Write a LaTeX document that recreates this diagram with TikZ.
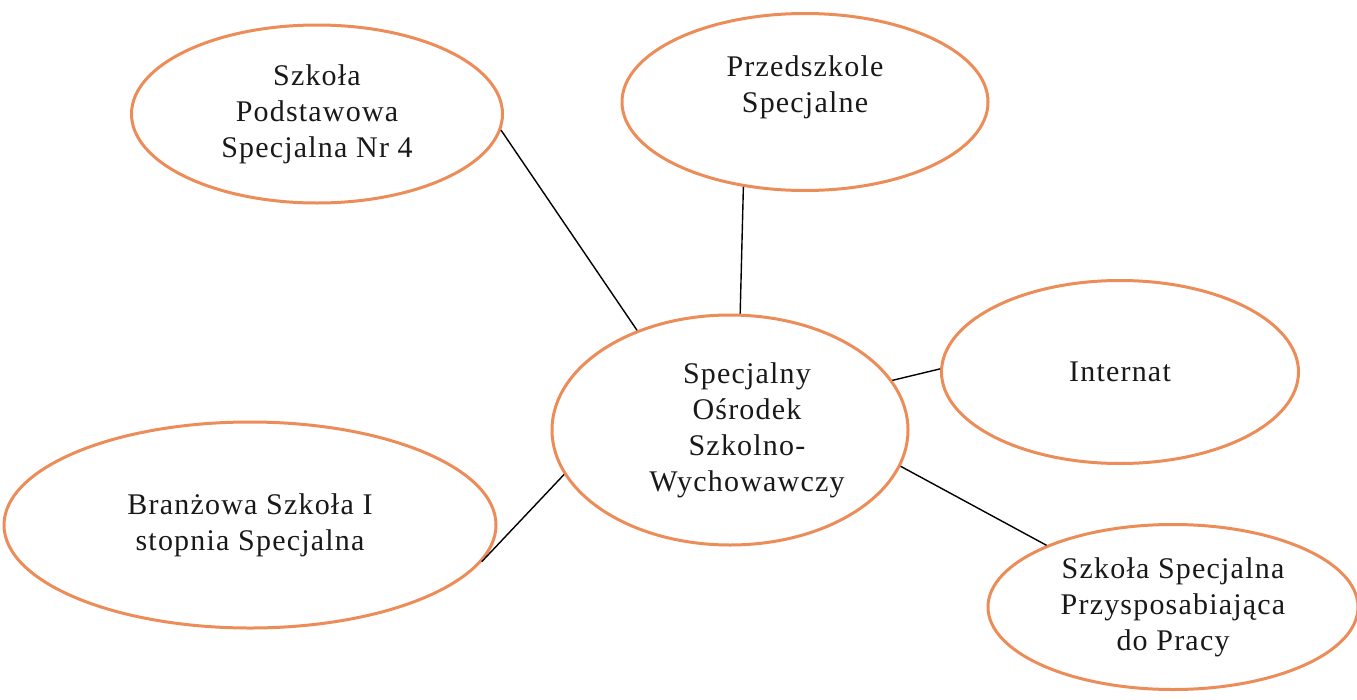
\documentclass[tikz,border=0pt]{standalone}
\usepackage{fontspec}
\setmainfont[LetterSpace=4]{Liberation Serif}
\usetikzlibrary{shapes.geometric}
\definecolor{ringorange}{RGB}{236,140,88}

\begin{document}
\begin{tikzpicture}
[x=1pt,y=-1pt,
unit/.style={ellipse,draw=ringorange,line width=3pt,fill=white,inner sep=0pt,align=center,
  text=black!90,font=\fontsize{30}{36}\selectfont},
lbl/.style={align=center,text=black!90,font=\fontsize{30}{36}\selectfont},
link/.style={-,black,line width=1.4pt}]

\useasboundingbox (0,0) rectangle (1357,699);

%draw the centre
\node[unit,minimum width=356pt,minimum height=230pt,
  label={[lbl,xshift=17pt]center:{Specjalny\\O\'srodek\\Szkolno-\\Wychowawczy}}] (sosw) at (730,430) {};

%draw the units round it
\node[unit,minimum width=371pt,minimum height=178pt] (sp4) at (317,114)
  {Szko\l{}a\\Podstawowa\\Specjalna Nr 4};
\node[unit,minimum width=366pt,minimum height=177pt,
  label={[lbl,yshift=15pt]center:{Przedszkole\\Specjalne}}] (przedszkole) at (805,102) {};
\node[unit,minimum width=357pt,minimum height=183pt] (internat) at (1120,372) {Internat};
\node[unit,minimum width=492pt,minimum height=206pt] (branzowa) at (250,525)
  {Bran\.zowa Szko\l{}a I\\stopnia Specjalna};
\node[unit,minimum width=370pt,minimum height=165pt] (ssp) at (1173,607)
  {Szko\l{}a Specjalna\\Przysposabiaj\k{a}ca\\do Pracy};

%draw the links
\draw[link] (sp4.-5) -- (sosw.133);
\draw[link] (przedszkole.-126) -- (sosw.85);
\draw[link] (sosw.17) -- (internat.179);
\draw[link] (sosw.-12) -- (ssp.154);
\draw[link] (sosw.-165) -- (branzowa.-9);

\end{tikzpicture}
\end{document}
